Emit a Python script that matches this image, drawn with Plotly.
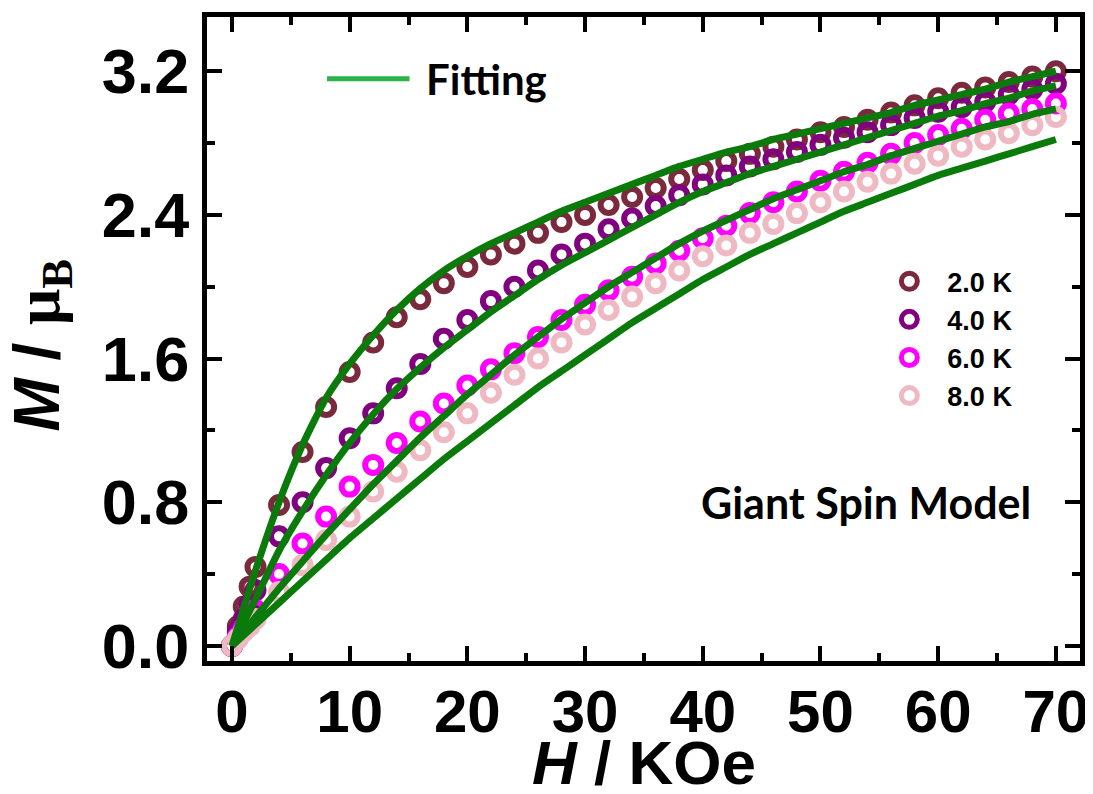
import plotly.graph_objects as go

# ---------------- data ----------------
H = [0, 0.5, 1, 1.5, 2, 4, 6, 8, 10, 12, 14, 16, 18, 20, 22, 24, 26, 28, 30, 32, 34,
     36, 38, 40, 42, 44, 46, 48, 50, 52, 54, 56, 58, 60, 62, 64, 66, 68, 70]

M_2K = [0, 0.11, 0.22, 0.33, 0.44, 0.785, 1.08, 1.33, 1.525, 1.69, 1.83, 1.93, 2.02, 2.11,
        2.18, 2.24, 2.30, 2.36, 2.40, 2.455, 2.50, 2.55, 2.60, 2.65, 2.70, 2.74, 2.78, 2.82,
        2.86, 2.89, 2.93, 2.97, 3.01, 3.05, 3.08, 3.11, 3.14, 3.17, 3.20]
M_4K = [0, 0.08, 0.15, 0.23, 0.31, 0.61, 0.80, 0.99, 1.156, 1.295, 1.435, 1.57, 1.71, 1.815,
        1.92, 2.00, 2.09, 2.18, 2.24, 2.32, 2.38, 2.45, 2.51, 2.57, 2.62, 2.67, 2.71, 2.75,
        2.79, 2.83, 2.86, 2.90, 2.94, 2.975, 3.00, 3.03, 3.07, 3.10, 3.13]
M_6K = [0, 0.05, 0.10, 0.15, 0.20, 0.40, 0.57, 0.72, 0.887, 1.008, 1.13, 1.25, 1.35, 1.45,
        1.54, 1.63, 1.72, 1.815, 1.90, 1.98, 2.056, 2.13, 2.20, 2.27, 2.34, 2.41, 2.47, 2.53,
        2.59, 2.64, 2.69, 2.74, 2.80, 2.845, 2.88, 2.93, 2.965, 2.99, 3.02]
M_8K = [0, 0.04, 0.08, 0.11, 0.15, 0.30, 0.45, 0.59, 0.72, 0.86, 0.97, 1.09, 1.19, 1.295,
        1.41, 1.51, 1.60, 1.69, 1.79, 1.87, 1.945, 2.02, 2.09, 2.17, 2.23, 2.30, 2.35, 2.41,
        2.47, 2.53, 2.585, 2.63, 2.685, 2.73, 2.78, 2.82, 2.855, 2.90, 2.945]

H_fit = [0, 2, 4, 6, 8, 10, 12, 14, 16, 18, 20, 22, 24, 26, 28, 30, 32, 34, 36, 38, 40,
         42, 44, 46, 48, 50, 52, 54, 56, 58, 60, 62, 64, 66, 68, 70]
F_2K = [0, 0.42, 0.80, 1.12, 1.38, 1.57, 1.73, 1.87, 1.99, 2.09, 2.17, 2.24, 2.30, 2.36, 2.42,
        2.47, 2.52, 2.57, 2.62, 2.67, 2.71, 2.75, 2.78, 2.82, 2.85, 2.88, 2.91, 2.94, 2.97,
        3.01, 3.04, 3.07, 3.10, 3.14, 3.17, 3.20]
F_4K = [0, 0.26, 0.53, 0.75, 0.95, 1.13, 1.29, 1.43, 1.55, 1.66, 1.76, 1.86, 1.95, 2.04, 2.12,
        2.19, 2.26, 2.33, 2.40, 2.47, 2.53, 2.58, 2.63, 2.67, 2.71, 2.75, 2.79, 2.83, 2.87,
        2.91, 2.95, 2.98, 3.02, 3.05, 3.09, 3.12]
F_6K = [0, 0.16, 0.32, 0.47, 0.62, 0.76, 0.90, 1.03, 1.16, 1.28, 1.40, 1.51, 1.62, 1.72, 1.82,
        1.91, 2.00, 2.08, 2.16, 2.24, 2.31, 2.37, 2.43, 2.49, 2.54, 2.59, 2.64, 2.68, 2.73,
        2.77, 2.81, 2.85, 2.89, 2.92, 2.96, 2.99]
F_8K = [0, 0.12, 0.24, 0.36, 0.48, 0.60, 0.71, 0.82, 0.93, 1.04, 1.14, 1.24, 1.34, 1.44, 1.53,
        1.62, 1.71, 1.80, 1.88, 1.96, 2.04, 2.11, 2.18, 2.24, 2.30, 2.36, 2.42, 2.47, 2.52,
        2.57, 2.62, 2.66, 2.70, 2.74, 2.78, 2.82]

series_names = ["2.0 K", "4.0 K", "6.0 K", "8.0 K"]
series_colors = ["#7a2a3c", "#800080", "#ff00ff", "#efb9c3"]
x_ticks = [0, 10, 20, 30, 40, 50, 60, 70]
y_ticks = [0.0, 0.8, 1.6, 2.4, 3.2]

# ---------------- figure ----------------
fig = go.Figure()

for name, ys, col in zip(series_names, [M_2K, M_4K, M_6K, M_8K], series_colors):
    fig.add_trace(go.Scatter(
        x=H, y=ys, mode="markers", name=name,
        marker=dict(symbol="circle-open", size=16, color=col, line=dict(width=6, color=col)),
    ))

for ys in [F_2K, F_4K, F_6K, F_8K]:
    fig.add_trace(go.Scatter(
        x=H_fit, y=ys, mode="lines", showlegend=False,
        line=dict(color="#0a7a0a", width=7, shape="spline", smoothing=0.6),
    ))

SANS = "Liberation Sans, Arial, sans-serif"

fig.update_xaxes(
    range=[-2.12, 72.05], tickvals=x_ticks, ticks="inside", ticklen=15, tickwidth=4,
    tickcolor="black", showline=True, linewidth=5, linecolor="black", mirror="ticks",
    showgrid=False, zeroline=False, automargin=False, ticklabelstandoff=-6,
    tickfont=dict(family=SANS, size=60, color="black", weight="bold"),
    minor=dict(dtick=5, tick0=0, ticks="inside", ticklen=8, tickwidth=4, tickcolor="black", showgrid=False),
)
fig.update_yaxes(
    range=[-0.084, 3.502], tickvals=y_ticks, tickformat=".1f", ticks="inside", ticklen=15, tickwidth=4,
    tickcolor="black", showline=True, linewidth=5, linecolor="black", mirror="ticks",
    showgrid=False, zeroline=False, automargin=False,
    tickfont=dict(family=SANS, size=63, color="black", weight="bold"),
    minor=dict(dtick=0.4, tick0=0, ticks="inside", ticklen=8, tickwidth=4, tickcolor="black", showgrid=False),
)

# the page adds an 8 px body margin, so the figure is offset to compensate
fig.update_layout(
    width=1085, height=786,
    margin=dict(l=199, r=13, t=9, b=133),
    plot_bgcolor="white", paper_bgcolor="white",
    legend=dict(x=0.761, y=0.627, xanchor="left", yanchor="top", bgcolor="rgba(0,0,0,0)",
                font=dict(family=SANS, size=27, color="black", weight="bold"),
                itemwidth=66, tracegroupgap=0),
    shapes=[dict(type="line", xref="paper", yref="paper", x0=0.1375, x1=0.232, y0=0.904, y1=0.904,
                 line=dict(color="#2db24a", width=5))],
    annotations=[
        dict(text="Fitting", xref="paper", yref="paper", x=0.248, y=0.904, xanchor="left", yanchor="middle",
             showarrow=False, font=dict(family="Lato, sans-serif", size=42, color="black", weight="bold")),
        dict(text="Giant Spin Model", xref="paper", yref="paper", x=0.946, y=0.246, xanchor="right",
             yanchor="middle", showarrow=False,
             font=dict(family="Lato, sans-serif", size=43, color="black", weight="bold")),
        dict(text="<i>H</i> / KOe", xref="paper", yref="paper", x=0.5, y=-0.158, xanchor="center",
             yanchor="middle", showarrow=False,
             font=dict(family=SANS, size=62, color="black", weight="bold")),
        dict(text="<i>M</i> / <span style='font-family:Liberation Serif'>μ<sub>B</sub></span>",
             xref="paper", yref="paper", x=-0.19, y=0.49, xanchor="center", yanchor="middle",
             textangle=-90, showarrow=False,
             font=dict(family=SANS, size=64, color="black", weight="bold")),
    ],
)

fig.write_html("out.html")
